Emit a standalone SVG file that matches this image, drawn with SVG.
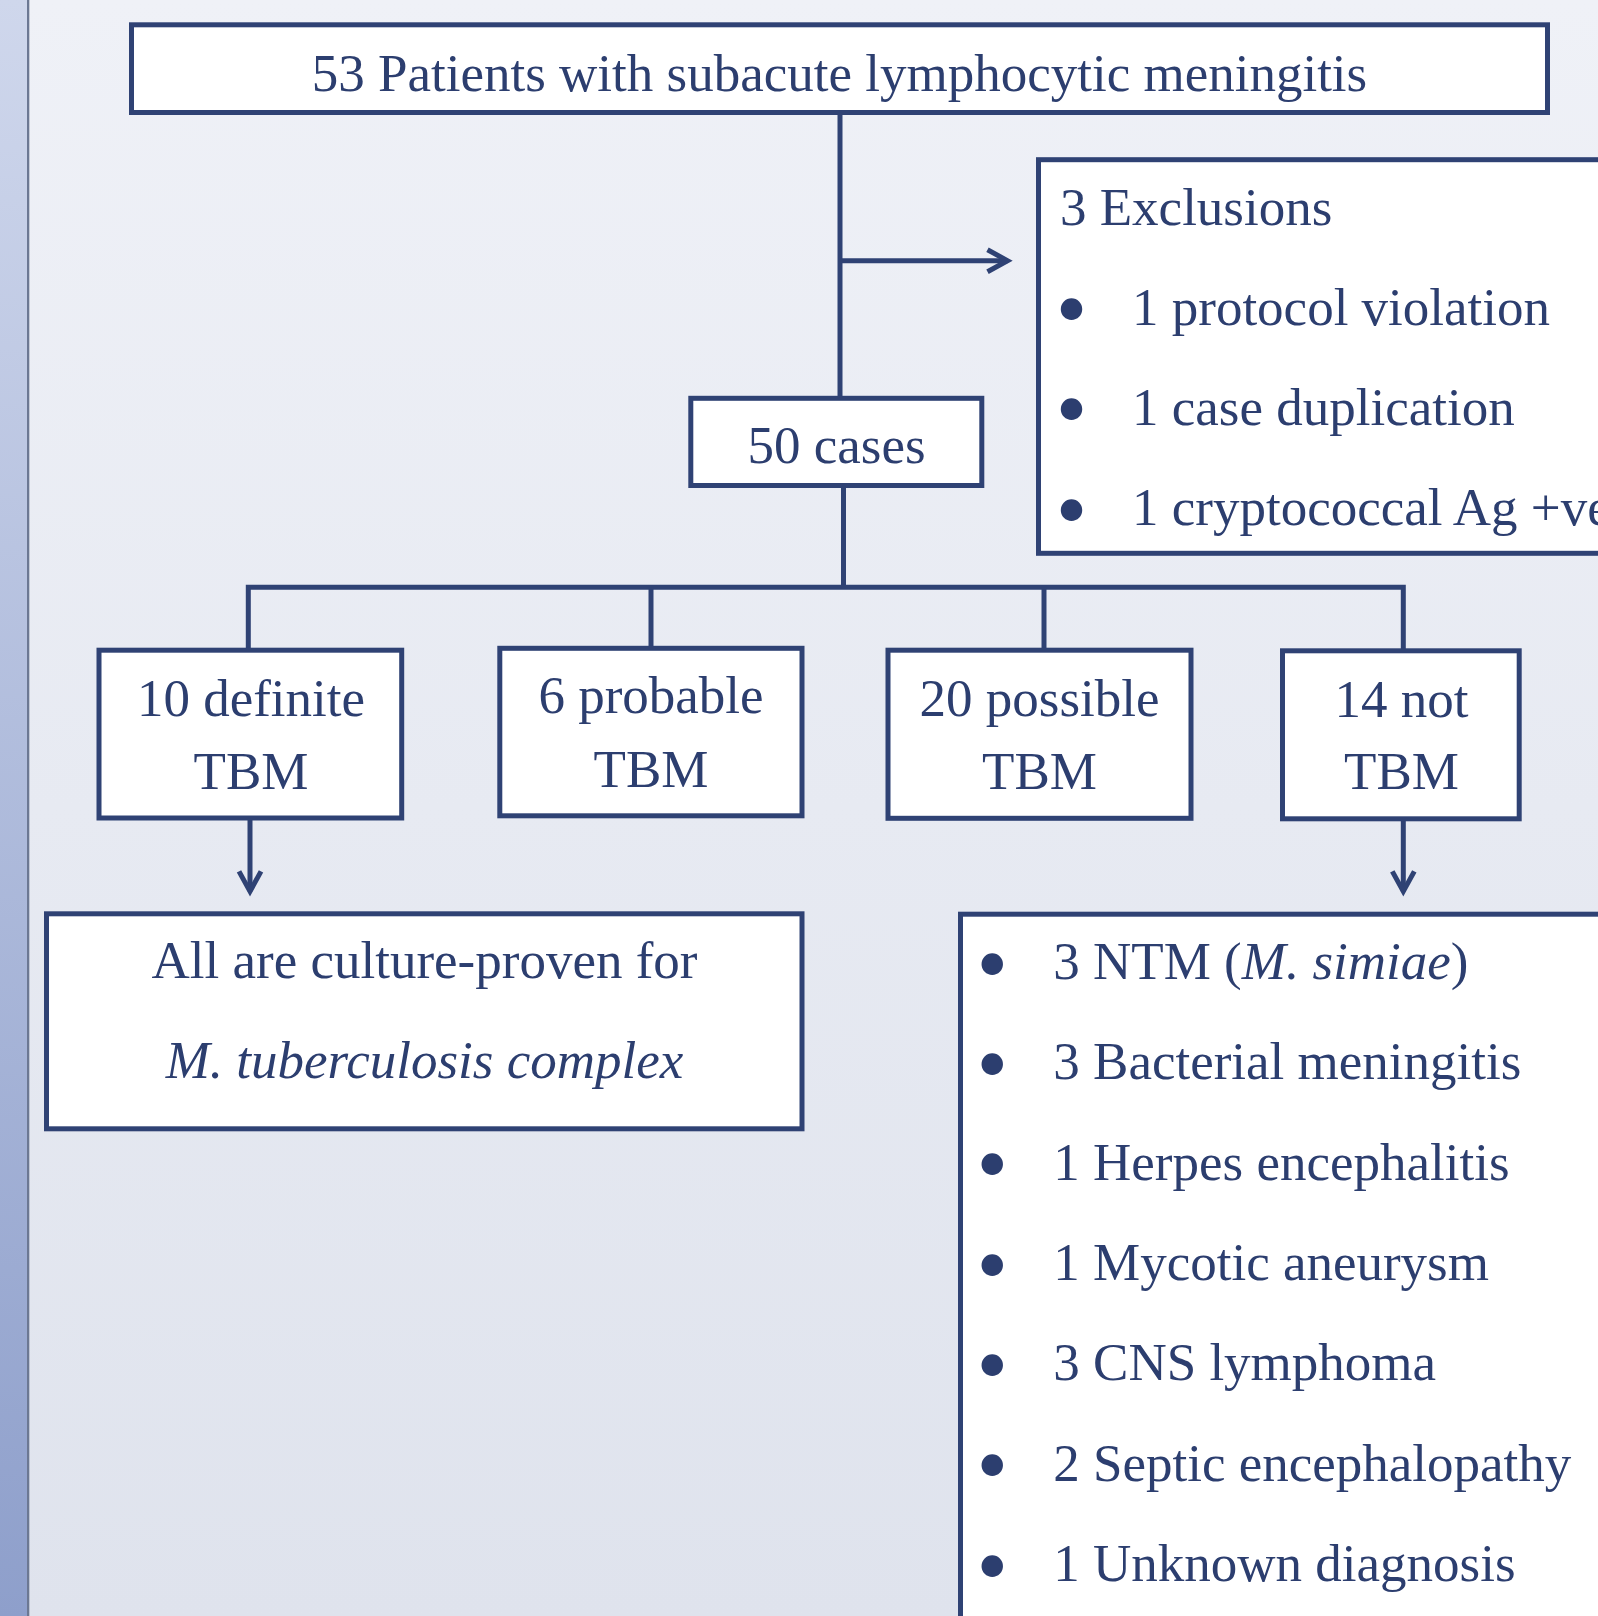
<svg xmlns="http://www.w3.org/2000/svg" width="1598" height="1616" viewBox="0 0 1598 1616">
  <defs>
    <linearGradient id="bg" x1="0" y1="0" x2="0" y2="1">
      <stop offset="0" stop-color="#eff1f7"/>
      <stop offset="1" stop-color="#dfe3ed"/>
    </linearGradient>
    <linearGradient id="strip" x1="0" y1="0" x2="0" y2="1">
      <stop offset="0" stop-color="#cfd7ec"/>
      <stop offset="1" stop-color="#8e9fcb"/>
    </linearGradient>
    <marker id="arrow" markerUnits="userSpaceOnUse" viewBox="-26 -16 32 32" refX="0" refY="0" markerWidth="32" markerHeight="32" orient="auto">
      <path d="M-20,-11 L0,0 L-20,11" fill="none" stroke="#2f4274" stroke-width="5" stroke-linejoin="miter"/>
    </marker>
    <style>
      .box { fill: #ffffff; stroke: #2f4274; stroke-width: 5; }
      .line { fill: none; stroke: #2f4274; stroke-width: 5; }
      .t { font-family: "Liberation Serif", "Times New Roman", serif; font-size: 53px; fill: #2c3e6f; }
      .c { text-anchor: middle; }
      .i { font-style: italic; }
      .b { text-anchor: middle; font-size: 90px; }
    </style>
  </defs>

  <rect x="0" y="0" width="1598" height="1616" fill="url(#bg)"/>
  <rect x="0" y="0" width="27" height="1616" fill="url(#strip)"/>
  <rect x="27" y="0" width="2.3" height="1616" fill="#6c7893"/>

  <g id="connectors">
    <path class="line" d="M840,112 V398"/>
    <path class="line" d="M840,260.7 H1007.5" marker-end="url(#arrow)"/>
    <path class="line" d="M843.5,485.5 V587.3"/>
    <path class="line" d="M248.3,650 V587.3 H1403.3 V650.8"/>
    <path class="line" d="M651,587.3 V648.3"/>
    <path class="line" d="M1044,587.3 V650.2"/>
    <path class="line" d="M250,818 V891.4" marker-end="url(#arrow)"/>
    <path class="line" d="M1403.3,818.8 V891.4" marker-end="url(#arrow)"/>
  </g>

  <g id="node-patients">
    <rect class="box" x="131.5" y="24.8" width="1416" height="87.7"/>
    <text class="t c" x="839.5" y="91">53 Patients with subacute lymphocytic meningitis</text>
  </g>

  <g id="node-exclusions">
    <rect class="box" x="1038.5" y="159.7" width="600" height="393.6"/>
    <text class="t" x="1060" y="224.5">3 Exclusions</text>
    <text class="t b" x="1071.5" y="339">•</text>
    <text class="t" x="1132" y="324.5">1 protocol violation</text>
    <text class="t b" x="1071.5" y="439">•</text>
    <text class="t" x="1132" y="424.5">1 case duplication</text>
    <text class="t b" x="1071.5" y="539.5">•</text>
    <text class="t" x="1132" y="525">1 cryptococcal Ag +ve</text>
  </g>

  <g id="node-cases">
    <rect class="box" x="690.8" y="398.3" width="291" height="87.2"/>
    <text class="t c" x="836.5" y="463.3">50 cases</text>
  </g>

  <g id="node-definite">
    <rect class="box" x="99" y="650.2" width="302.7" height="167.8"/>
    <text class="t c" x="251" y="715.7">10 definite</text>
    <text class="t c" x="251" y="789">TBM</text>
  </g>

  <g id="node-probable">
    <rect class="box" x="499.8" y="648.3" width="302.2" height="167.5"/>
    <text class="t c" x="651" y="713.3">6 probable</text>
    <text class="t c" x="651" y="786.7">TBM</text>
  </g>

  <g id="node-possible">
    <rect class="box" x="888" y="650.2" width="303" height="168.1"/>
    <text class="t c" x="1039.5" y="715.7">20 possible</text>
    <text class="t c" x="1039.5" y="789">TBM</text>
  </g>

  <g id="node-not">
    <rect class="box" x="1282.5" y="650.8" width="236.7" height="168"/>
    <text class="t c" x="1401.5" y="716.7">14 not</text>
    <text class="t c" x="1401.5" y="789">TBM</text>
  </g>

  <g id="node-culture">
    <rect class="box" x="46.5" y="913.8" width="755.5" height="215"/>
    <text class="t c" x="424.5" y="978.3">All are culture-proven for</text>
    <text class="t c i" x="424.5" y="1078.3">M. tuberculosis complex</text>
  </g>

  <g id="node-other">
    <rect class="box" x="960.5" y="914.2" width="700" height="800"/>
    <text class="t b" x="992.3" y="993.5">•</text>
    <text class="t" x="1053.3" y="979">3 NTM (<tspan class="i">M. simiae</tspan>)</text>
    <text class="t b" x="992.3" y="1093.5">•</text>
    <text class="t" x="1053.3" y="1079">3 Bacterial meningitis</text>
    <text class="t b" x="992.3" y="1194">•</text>
    <text class="t" x="1053.3" y="1179.5">1 Herpes encephalitis</text>
    <text class="t b" x="992.3" y="1294.5">•</text>
    <text class="t" x="1053.3" y="1280">1 Mycotic aneurysm</text>
    <text class="t b" x="992.3" y="1394.5">•</text>
    <text class="t" x="1053.3" y="1380">3 CNS lymphoma</text>
    <text class="t b" x="992.3" y="1495">•</text>
    <text class="t" x="1053.3" y="1480.5">2 Septic encephalopathy</text>
    <text class="t b" x="992.3" y="1595.5">•</text>
    <text class="t" x="1053.3" y="1581">1 Unknown diagnosis</text>
  </g>
</svg>
